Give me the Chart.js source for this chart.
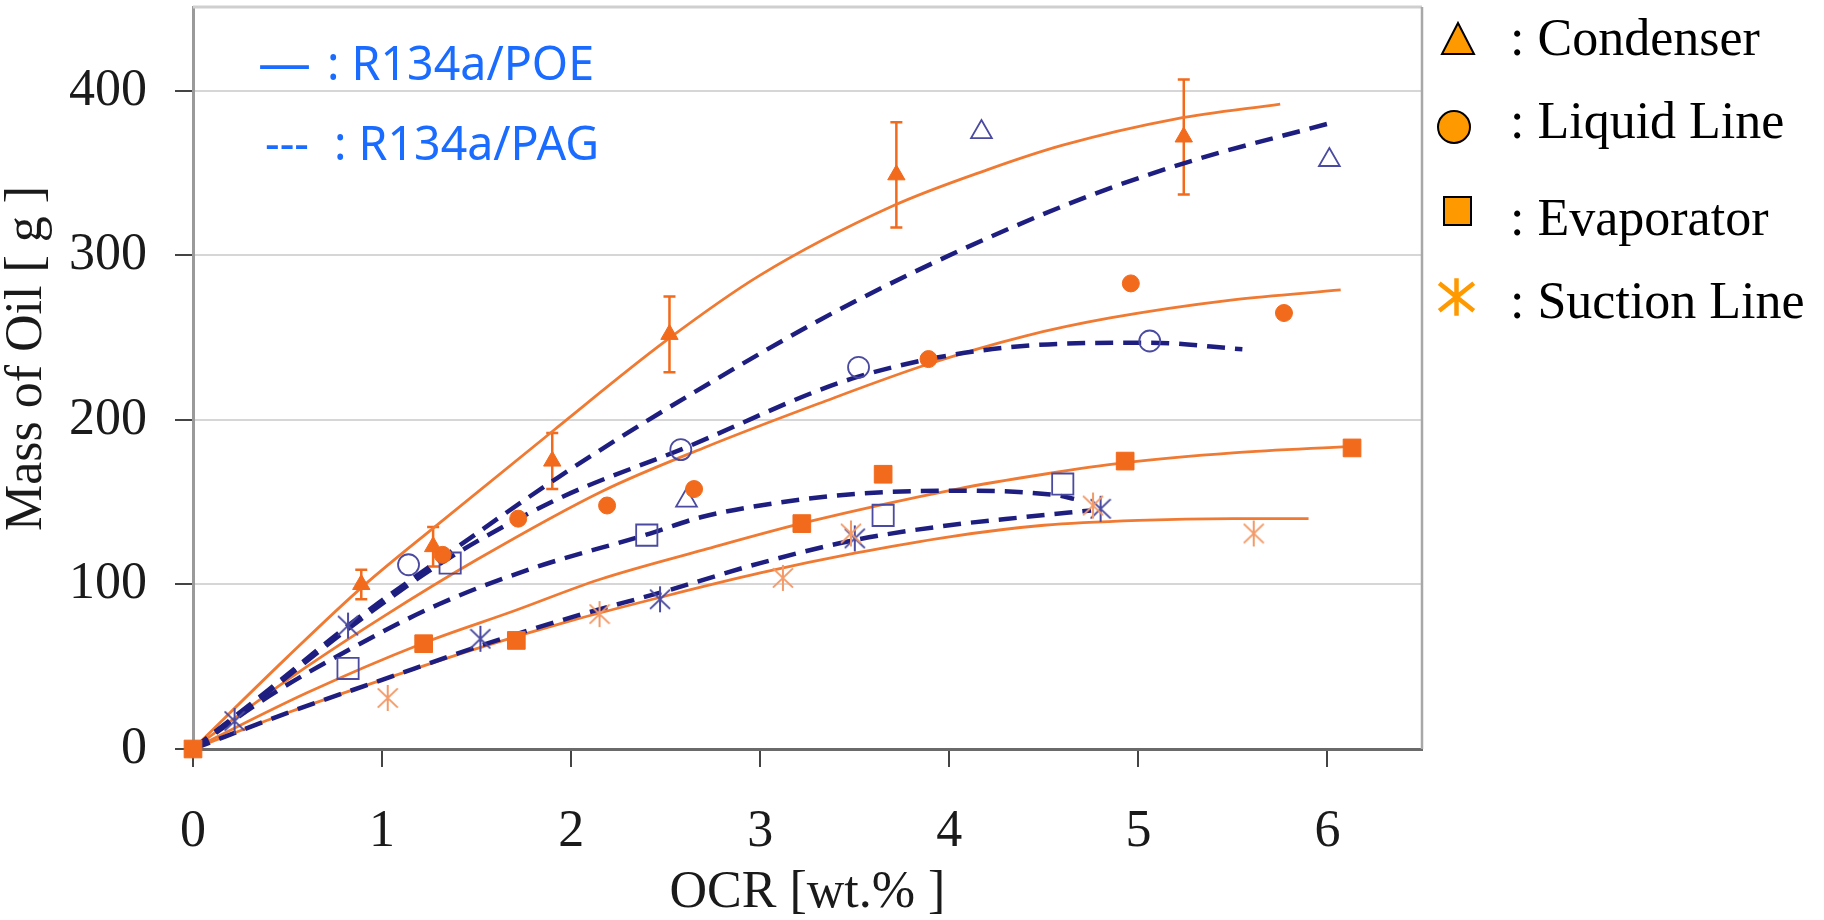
<!DOCTYPE html>
<html>
<head>
<meta charset="utf-8">
<title>Mass of Oil x OCR</title>
<script src="https://cdn.jsdelivr.net/npm/chart.js@4.4.0/dist/chart.umd.min.js"></script>
<style>
    html, body { margin: 0; padding: 0; background: #fff; }
    #grafico { display: block; }
</style>
</head>
<body>
<canvas id="grafico" width="1824" height="920"></canvas>
<script>
const ocrTicks = [0, 1, 2, 3, 4, 5, 6]
const massTicks = [0, 100, 200, 300, 400]

// R134a/POE medidos (marcadores cheios)
const poeCondX = [0.89, 1.27, 1.90, 2.52, 3.72, 5.24]
const poeCondY = [100, 123, 175, 252, 349, 372]
const poeCondErr = [9, 12, 17, 23, 32, 35]
const poeLiqX = [1.32, 1.72, 2.19, 2.65, 3.89, 4.96, 5.77]
const poeLiqY = [118, 140, 148, 158, 237, 283, 265]
const poeEvapX = [0, 1.22, 1.71, 3.22, 3.65, 4.93, 6.13]
const poeEvapY = [0, 64, 66, 137, 167, 175, 183]
const poeSucX = [1.03, 2.15, 3.12, 3.48, 4.76, 5.61]
const poeSucY = [31, 82, 104, 131, 148, 131]

// R134a/PAG medidos (marcadores vazados)
const pagCondX = [2.61, 4.17, 6.01]
const pagCondY = [151, 375, 358]
const pagLiqX = [1.14, 2.58, 3.52, 5.06]
const pagLiqY = [112, 182, 232, 248]
const pagEvapX = [0.82, 1.36, 2.40, 3.65, 4.60]
const pagEvapY = [49, 113, 130, 142, 161]
const pagSucX = [0.22, 0.82, 1.52, 2.47, 3.50, 4.80]
const pagSucY = [17, 75, 67, 91, 128, 146]

// curvas ajustadas POE (cheias)
const poeCondFitX = [0, 0.5, 0.9, 1.3, 1.9, 2.5, 3.0, 3.7, 4.2, 4.6, 5.2, 5.75]
const poeCondFitY = [0, 56, 99, 137, 193, 248, 288, 330, 352, 367, 383, 392]
const poeLiqFitX = [0, 0.5, 1, 1.5, 2.17, 2.7, 3.31, 3.89, 4.4, 4.85, 5.5, 6.07]
const poeLiqFitY = [0, 42, 80, 115, 157, 183, 210, 234, 251, 262, 273, 279]
const poeEvapFitX = [0, 0.6, 1.21, 1.7, 2.15, 2.7, 3.25, 4.04, 4.5, 4.93, 5.5, 6.12]
const poeEvapFitY = [0, 34, 64, 84, 103, 121, 138, 158, 167, 174, 180, 184]
const poeSucFitX = [0, 0.5, 1, 1.5, 2, 2.5, 3, 3.5, 4, 4.5, 5, 5.5, 5.9]
const poeSucFitY = [0, 22, 42, 61, 78, 93, 107, 119, 129, 136, 139, 140, 140]

// curvas ajustadas PAG (tracejadas)
const pagCondFitX = [0, 0.4, 0.82, 1.34, 1.93, 2.61, 3.5, 4.58, 5.24, 6.0]
const pagCondFitY = [0, 36, 75, 118, 165, 214, 272, 329, 356, 380]
const pagLiqFitX = [0, 0.4, 0.82, 1.34, 1.93, 2.58, 3.51, 4.3, 5.05, 5.55]
const pagLiqFitY = [0, 35, 73, 115, 152, 182, 226, 244, 247, 243]
const pagEvapFitX = [0, 0.4, 0.82, 1.3, 1.8, 2.39, 2.69, 3.0, 3.5, 4.04, 4.58, 4.66]
const pagEvapFitY = [0, 32, 60, 88, 110, 130, 141, 148, 155, 157, 154, 152]
const pagSucFitX = [0, 0.5, 1, 1.5, 2, 2.5, 3, 3.5, 4, 4.4, 4.75]
const pagSucFitY = [0, 22, 42, 62, 80, 96, 113, 127, 136, 141, 145]

const lineLabels = [': R134a/POE', ': R134a/PAG']
const partLabels = [': Condenser', ': Liquid Line', ': Evaporator', ': Suction Line']

const orange = '#F26A1C'
const orangeLine = '#F07A32'
const orangeStar = '#F39A68'
const navy = '#1E1E80'
const hollowBlue = '#4A4AA0'
const legendOrange = '#FF9900'
const blueText = '#1A6BFF'
const serif = "'Liberation Serif', 'Times New Roman', serif"

const pontos = (xs, ys) => xs.map((x, i) => ({ x: x, y: ys[i] }))

function asterisco(w, h, color, width) {
    const c = document.createElement('canvas')
    c.width = w
    c.height = h
    const g = c.getContext('2d')
    const m = width / 2
    g.strokeStyle = color
    g.lineWidth = width
    g.beginPath()
    g.moveTo(w / 2, m)
    g.lineTo(w / 2, h - m)
    g.moveTo(m, m + h * 0.12)
    g.lineTo(w - m, h - m - h * 0.12)
    g.moveTo(w - m, m + h * 0.12)
    g.lineTo(m, h - m - h * 0.12)
    g.stroke()
    return c
}

const starOrange = asterisco(22, 28, orangeStar, 2)
const starBlue = asterisco(22, 28, hollowBlue, 2)

const cheio = (label, xs, ys, style, radius) => ({
    label: label,
    data: pontos(xs, ys),
    pointStyle: style,
    pointRadius: radius,
    pointBackgroundColor: orange,
    pointBorderColor: orange,
    pointBorderWidth: 1,
    showLine: false,
    clip: false
})

const vazado = (label, xs, ys, style, radius) => ({
    label: label,
    data: pontos(xs, ys),
    pointStyle: style,
    pointRadius: radius,
    pointBackgroundColor: 'rgba(255,255,255,0)',
    pointBorderColor: hollowBlue,
    pointBorderWidth: 1.8,
    showLine: false,
    clip: false
})

const curva = (label, xs, ys, dashed) => ({
    label: label,
    data: pontos(xs, ys),
    showLine: true,
    pointRadius: 0,
    borderColor: dashed ? navy : orangeLine,
    borderWidth: dashed ? 4.5 : 2.8,
    borderDash: dashed ? [18, 10] : [],
    cubicInterpolationMode: 'monotone',
    fill: false,
    clip: false
})

const barrasErro = {
    id: 'barrasErro',
    beforeDatasetsDraw(chart) {
        const { ctx, scales: { x, y } } = chart
        ctx.save()
        ctx.strokeStyle = orange
        ctx.lineWidth = 2.5
        poeCondX.forEach((v, i) => {
            const px = x.getPixelForValue(v)
            const topo = y.getPixelForValue(poeCondY[i] + poeCondErr[i])
            const base = y.getPixelForValue(poeCondY[i] - poeCondErr[i])
            ctx.beginPath()
            ctx.moveTo(px, topo)
            ctx.lineTo(px, base)
            ctx.moveTo(px - 6, topo)
            ctx.lineTo(px + 6, topo)
            ctx.moveTo(px - 6, base)
            ctx.lineTo(px + 6, base)
            ctx.stroke()
        })
        ctx.restore()
    }
}

const moldura = {
    id: 'moldura',
    beforeDatasetsDraw(chart) {
        const { ctx, chartArea: a } = chart
        ctx.save()
        ctx.lineWidth = 3
        ctx.strokeStyle = '#cfcfcf'
        ctx.beginPath()
        ctx.moveTo(a.left, a.top)
        ctx.lineTo(a.right, a.top)
        ctx.stroke()
        ctx.lineWidth = 2.5
        ctx.strokeStyle = '#a8a8a8'
        ctx.beginPath()
        ctx.moveTo(a.right, a.top)
        ctx.lineTo(a.right, a.bottom)
        ctx.stroke()
        ctx.restore()
    }
}

function textoAjustado(ctx, txt, x, y, largura) {
    const w = ctx.measureText(txt).width
    ctx.save()
    ctx.translate(x, y)
    ctx.scale(largura / w, 1)
    ctx.fillText(txt, 0, 0)
    ctx.restore()
}

const legendas = {
    id: 'legendas',
    afterDraw(chart) {
        const ctx = chart.ctx
        ctx.save()

        // legenda das curvas (azul)
        ctx.fillStyle = blueText
        ctx.textBaseline = 'alphabetic'
        ctx.textAlign = 'left'
        ctx.font = "47px 'Noto Sans', sans-serif"
        textoAjustado(ctx, '\u2014', 258, 80, 53)
        textoAjustado(ctx, lineLabels[0], 327, 80, 267)
        textoAjustado(ctx, '---', 265, 160, 44)
        textoAjustado(ctx, lineLabels[1], 334, 160, 265)

        // legenda dos componentes
        ctx.fillStyle = legendOrange
        ctx.strokeStyle = '#000'
        ctx.lineWidth = 2
        ctx.beginPath()
        ctx.moveTo(1458, 23)
        ctx.lineTo(1474, 54)
        ctx.lineTo(1442, 54)
        ctx.closePath()
        ctx.fill()
        ctx.stroke()
        ctx.beginPath()
        ctx.arc(1454, 127, 16, 0, Math.PI * 2)
        ctx.fill()
        ctx.stroke()
        ctx.beginPath()
        ctx.rect(1444, 197, 27, 28)
        ctx.fill()
        ctx.stroke()
        ctx.drawImage(asterisco(39, 42, legendOrange, 4.5), 1437, 276)

        ctx.fillStyle = '#000'
        ctx.font = `52px ${serif}`
        const bases = [55, 138, 235, 318]
        partLabels.forEach((t, i) => ctx.fillText(t, 1510, bases[i]))
        ctx.restore()
    }
}

const ctx = document.getElementById('grafico').getContext('2d')

const grafico = new Chart(ctx, {
    type: 'scatter',
    data: {
        datasets: [
            cheio('Condenser POE', poeCondX, poeCondY, 'triangle', 10),
            cheio('Liquid Line POE', poeLiqX, poeLiqY, 'circle', 8.5),
            cheio('Evaporator POE', poeEvapX, poeEvapY, 'rect', 12.5),
            cheio('Suction Line POE', poeSucX, poeSucY, starOrange, 10),
            vazado('Condenser PAG', pagCondX, pagCondY, 'triangle', 12),
            vazado('Liquid Line PAG', pagLiqX, pagLiqY, 'circle', 10.5),
            vazado('Evaporator PAG', pagEvapX, pagEvapY, 'rect', 15),
            vazado('Suction Line PAG', pagSucX, pagSucY, starBlue, 10),
            curva('Condenser PAG fit', pagCondFitX, pagCondFitY, true),
            curva('Liquid Line PAG fit', pagLiqFitX, pagLiqFitY, true),
            curva('Evaporator PAG fit', pagEvapFitX, pagEvapFitY, true),
            curva('Suction Line PAG fit', pagSucFitX, pagSucFitY, true),
            curva('Condenser POE fit', poeCondFitX, poeCondFitY, false),
            curva('Liquid Line POE fit', poeLiqFitX, poeLiqFitY, false),
            curva('Evaporator POE fit', poeEvapFitX, poeEvapFitY, false),
            curva('Suction Line POE fit', poeSucFitX, poeSucFitY, false)
        ]
    },
    options: {
        responsive: false,
        devicePixelRatio: 1,
        animation: false,
        events: [],
        layout: { autoPadding: false, padding: { top: 7, right: 402, left: 0, bottom: 0 } },
        plugins: {
            legend: { display: false },
            tooltip: { enabled: false }
        },
        scales: {
            x: {
                type: 'linear',
                min: 0,
                max: 6.5,
                afterBuildTicks: scale => { scale.ticks = ocrTicks.map(v => ({ value: v })) },
                afterFit: scale => {
                    scale.height = 171
                    scale.paddingLeft = 0
                    scale.paddingRight = 0
                },
                border: { display: true, color: '#6a6a6a', width: 3 },
                grid: {
                    drawOnChartArea: false,
                    drawTicks: true,
                    tickLength: 18,
                    tickColor: '#444',
                    lineWidth: 2
                },
                ticks: {
                    padding: 34,
                    color: '#1a1a1a',
                    font: { family: serif, size: 52 },
                    maxRotation: 0
                },
                title: {
                    display: true,
                    text: 'OCR [wt.% ]',
                    color: '#1a1a1a',
                    font: { family: serif, size: 52, lineHeight: 1.04 },
                    padding: 0
                }
            },
            y: {
                type: 'linear',
                min: 0,
                max: 451,
                afterBuildTicks: scale => { scale.ticks = massTicks.map(v => ({ value: v })) },
                afterFit: scale => {
                    scale.width = 193
                    scale.paddingTop = 0
                    scale.paddingBottom = 0
                },
                border: { display: true, color: '#9a9a9a', width: 3 },
                grid: {
                    color: c => c.tick && c.tick.value === 0 ? 'rgba(0,0,0,0)' : '#d6d6d6',
                    lineWidth: 2,
                    tickLength: 18,
                    tickColor: '#444'
                },
                ticks: {
                    padding: 28,
                    color: '#1a1a1a',
                    font: { family: serif, size: 52 }
                },
                title: {
                    display: true,
                    text: '   Mass of Oil [ g ]',
                    color: '#1a1a1a',
                    font: { family: serif, size: 52, lineHeight: 1.05 },
                    padding: 0
                }
            }
        }
    },
    plugins: [moldura, barrasErro, legendas]
})
</script>
</body>
</html>
